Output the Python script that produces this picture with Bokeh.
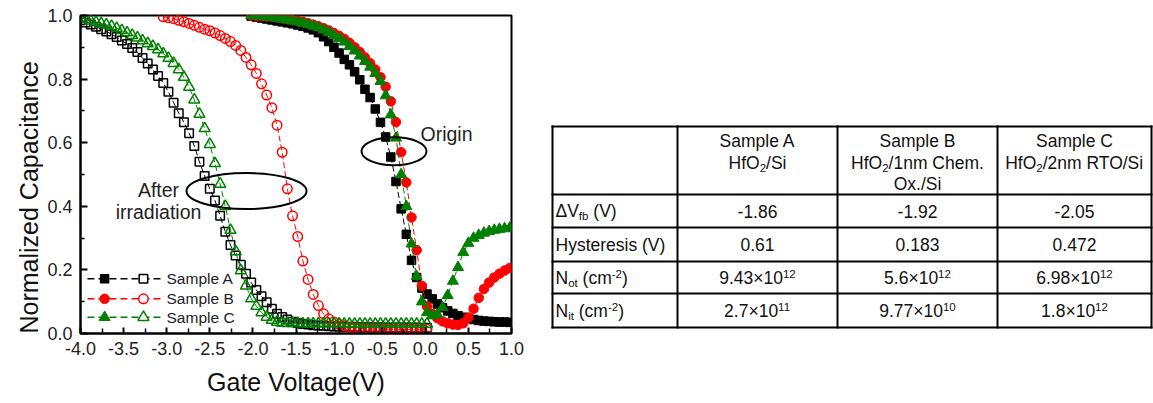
from bokeh.plotting import figure
from bokeh.layouts import row
from bokeh.models import Range1d, FixedTicker, Title
from bokeh.core.properties import value
from bokeh.embed import file_html
from bokeh.resources import INLINE

FONT = "Liberation Sans"

# ---------------- data ----------------
gate_v = [-4.00, -3.94, -3.88, -3.82, -3.76, -3.70, -3.64, -3.58, -3.52, -3.46,
          -3.40, -3.34, -3.28, -3.22, -3.16, -3.10, -3.04, -2.98, -2.92, -2.86,
          -2.80, -2.74, -2.68, -2.62, -2.56, -2.50, -2.44, -2.38, -2.32, -2.26,
          -2.20, -2.14, -2.08, -2.02, -1.96, -1.90, -1.84, -1.78, -1.72, -1.66,
          -1.60, -1.54, -1.48, -1.42, -1.36, -1.30, -1.24, -1.18, -1.12, -1.06,
          -1.00, -0.94, -0.88, -0.82, -0.76, -0.70, -0.64, -0.58, -0.52, -0.46,
          -0.40, -0.34, -0.28, -0.22, -0.16, -0.10, -0.04, 0.02, 0.08, 0.14,
          0.20, 0.26, 0.32, 0.38, 0.44, 0.50, 0.56, 0.62, 0.68, 0.74,
          0.80, 0.86, 0.92, 0.98]

# after irradiation (open markers)
after_a = [0.985, 0.978, 0.972, 0.965, 0.957, 0.950, 0.941, 0.932, 0.921, 0.910,
           0.898, 0.885, 0.866, 0.849, 0.830, 0.810, 0.788, 0.760, 0.726, 0.693,
           0.664, 0.630, 0.590, 0.540, 0.495, 0.455, 0.418, 0.370, 0.320, 0.278,
           0.245, 0.216, 0.188, 0.160, 0.137, 0.117, 0.098, 0.078, 0.062, 0.052,
           0.044, 0.037, 0.033, 0.030, 0.028, 0.026, 0.025, 0.024, 0.023, 0.022,
           0.022, 0.021, 0.021, 0.021, 0.020, 0.020, 0.020, 0.020, 0.020, 0.019,
           0.019, 0.019, 0.019, 0.019, 0.019, 0.019, 0.018, 0.018]
after_b = [0.996, 0.993, 0.990, 0.985, 0.980, 0.975, 0.969, 0.963, 0.957, 0.952,
           0.945, 0.937, 0.928, 0.918, 0.906, 0.890, 0.868, 0.845, 0.818, 0.785,
           0.750, 0.710, 0.655, 0.570, 0.455, 0.370, 0.305, 0.228, 0.170, 0.123,
           0.088, 0.062, 0.046, 0.036, 0.029, 0.024, 0.020, 0.018, 0.016, 0.015,
           0.015, 0.014, 0.014, 0.014, 0.013, 0.013, 0.013, 0.013, 0.013, 0.013,
           0.013, 0.013]
after_c = [0.993, 0.988, 0.983, 0.979, 0.975, 0.971, 0.966, 0.960, 0.953, 0.946,
           0.938, 0.930, 0.921, 0.912, 0.903, 0.893, 0.880, 0.866, 0.850, 0.830,
           0.806, 0.775, 0.735, 0.690, 0.645, 0.595, 0.535, 0.470, 0.400, 0.325,
           0.258, 0.198, 0.150, 0.110, 0.086, 0.066, 0.052, 0.042, 0.036, 0.033,
           0.032, 0.032, 0.032, 0.031, 0.031, 0.031, 0.031, 0.031, 0.031, 0.031,
           0.031, 0.030, 0.030, 0.030, 0.030, 0.030, 0.030, 0.030, 0.030, 0.030,
           0.030, 0.030, 0.030, 0.030, 0.030, 0.030, 0.030, 0.030]
after_a_v = gate_v[0:68]
after_b_v = gate_v[16:68]
after_c_v = gate_v[0:68]

# origin (filled markers)
origin_a = [0.998, 0.995, 0.992, 0.989, 0.986, 0.983, 0.980, 0.977, 0.974, 0.970,
            0.966, 0.961, 0.955, 0.946, 0.933, 0.918, 0.900, 0.882, 0.862, 0.845,
            0.823, 0.798, 0.768, 0.742, 0.706, 0.664, 0.618, 0.555, 0.478, 0.392,
            0.312, 0.230, 0.176, 0.143, 0.124, 0.109, 0.093, 0.081, 0.071, 0.063,
            0.056, 0.051, 0.047, 0.044, 0.041, 0.039, 0.038, 0.037, 0.036, 0.036,
            0.035]
origin_b = [1.000, 0.999, 0.998, 0.997, 0.996, 0.994, 0.992, 0.990, 0.987, 0.984,
            0.980, 0.976, 0.971, 0.966, 0.960, 0.953, 0.945, 0.936, 0.926, 0.914,
            0.900, 0.885, 0.868, 0.850, 0.830, 0.806, 0.776, 0.730, 0.665, 0.570,
            0.475, 0.365, 0.262, 0.150, 0.085, 0.062, 0.048, 0.038, 0.032, 0.028,
            0.027, 0.032, 0.050, 0.078, 0.112, 0.140, 0.160, 0.176, 0.188, 0.198,
            0.206]
origin_c = [1.000, 0.999, 0.998, 0.996, 0.994, 0.992, 0.989, 0.986, 0.983, 0.980,
            0.976, 0.972, 0.967, 0.962, 0.955, 0.947, 0.938, 0.928, 0.917, 0.903,
            0.889, 0.873, 0.856, 0.838, 0.818, 0.793, 0.748, 0.688, 0.615, 0.500,
            0.400, 0.282, 0.180, 0.100, 0.066, 0.056, 0.060, 0.082, 0.120, 0.165,
            0.208, 0.255, 0.284, 0.300, 0.309, 0.316, 0.321, 0.325, 0.328, 0.330,
            0.332]
origin_v = gate_v[33:84]

series_names = ["Sample A", "Sample B", "Sample C"]
series_colors = ["#000000", "#ff0000", "#008000"]
series_markers = ["square", "circle", "triangle"]

x_ticks = [-4.0, -3.5, -3.0, -2.5, -2.0, -1.5, -1.0, -0.5, 0.0, 0.5, 1.0]
x_tick_labels = ["-4.0", "-3.5", "-3.0", "-2.5", "-2.0", "-1.5", "-1.0", "-0.5", "0.0", "0.5", "1.0"]
x_minor = [-3.75, -3.25, -2.75, -2.25, -1.75, -1.25, -0.75, -0.25, 0.25, 0.75]
y_ticks = [0.0, 0.2, 0.4, 0.6, 0.8, 1.0]
y_tick_labels = ["0.0", "0.2", "0.4", "0.6", "0.8", "1.0"]
y_minor = [0.1, 0.3, 0.5, 0.7, 0.9]

x_title = "Gate Voltage(V)"
y_title = "Normalized Capacitance"
note_after = ["After", "irradiation"]
note_origin = "Origin"

# table contents: pieces of (text, kind) with kind n / sub / sup
table_headers = [
    [[("Sample A", "n")], [("HfO", "n"), ("2", "sub"), ("/Si", "n")]],
    [[("Sample B", "n")], [("HfO", "n"), ("2", "sub"), ("/1nm Chem.", "n")], [("Ox./Si", "n")]],
    [[("Sample C", "n")], [("HfO", "n"), ("2", "sub"), ("/2nm RTO/Si", "n")]],
]
table_row_labels = [
    [("\u0394V", "n"), ("fb", "sub"), (" (V)", "n")],
    [("Hysteresis (V)", "n")],
    [("N", "n"), ("ot", "sub"), (" (cm", "n"), ("-2", "sup"), (")", "n")],
    [("N", "n"), ("it", "sub"), (" (cm", "n"), ("-2", "sup"), (")", "n")],
]
table_values = [
    [[("-1.86", "n")], [("-1.92", "n")], [("-2.05", "n")]],
    [[("0.61", "n")], [("0.183", "n")], [("0.472", "n")]],
    [[("9.43\u00d710", "n"), ("12", "sup")], [("5.6\u00d710", "n"), ("12", "sup")], [("6.98\u00d710", "n"), ("12", "sup")]],
    [[("2.7\u00d710", "n"), ("11", "sup")], [("9.77\u00d710", "n"), ("10", "sup")], [("1.8\u00d710", "n"), ("12", "sup")]],
]

# ---------------- chart ----------------
BORDER_TOP = 15
BORDER_BOTTOM = 70
p = figure(width=545, height=403, x_range=Range1d(-4.0, 1.0), y_range=Range1d(0.0, 1.0),
           output_backend="svg", toolbar_location=None,
           min_border_left=80, min_border_right=34, min_border_top=BORDER_TOP,
           min_border_bottom=BORDER_BOTTOM)
p.grid.visible = False
p.outline_line_color = "#000000"
p.outline_line_width = 2
p.background_fill_color = "white"
p.border_fill_color = "white"

p.xaxis.ticker = FixedTicker(ticks=x_ticks, minor_ticks=x_minor)
p.yaxis.ticker = FixedTicker(ticks=y_ticks, minor_ticks=y_minor)
p.xaxis.major_label_overrides = dict(zip(x_ticks, x_tick_labels))
p.yaxis.major_label_overrides = dict(zip(y_ticks, y_tick_labels))
for ax in (p.xaxis[0], p.yaxis[0]):
    ax.axis_line_width = 2
    ax.axis_line_color = "#000000"
    ax.major_tick_line_width = 2
    ax.minor_tick_line_width = 1.5
    ax.major_tick_line_color = "#000000"
    ax.minor_tick_line_color = "#000000"
    ax.major_tick_out = 0
    ax.minor_tick_out = 0
    ax.major_label_text_font = FONT
    ax.major_label_text_font_size = "18px"
    ax.major_label_text_color = "#222222"
    ax.major_label_standoff = 8
p.xaxis.major_tick_in = 6
p.xaxis.minor_tick_in = 5
p.yaxis.major_tick_in = 7
p.yaxis.minor_tick_in = 4
p.xaxis.axis_label = x_title
p.xaxis.axis_label_text_font = FONT
p.xaxis.axis_label_text_font_size = "25px"
p.xaxis.axis_label_text_font_style = "normal"
p.xaxis.axis_label_text_color = "#111111"
p.xaxis.axis_label_standoff = 10

p.add_layout(Title(text=y_title, align="left", offset=0, standoff=4,
                   text_font=FONT, text_font_size="25px", text_font_style="normal",
                   text_color="#111111"), "left")

after_sets = [(after_a_v, after_a), (after_b_v, after_b), (after_c_v, after_c)]
origin_sets = [(origin_v, origin_a), (origin_v, origin_b), (origin_v, origin_c)]
marker_sizes = {"square": 8.5, "circle": 9.5, "triangle": 11}
open_sizes = {"square": 8.5, "circle": 9.5, "triangle": 11}

for i in range(3):
    col = series_colors[i]
    mk = series_markers[i]
    av, ac = after_sets[i]
    ov, oc = origin_sets[i]
    p.line(av, ac, line_color=col, line_width=1, line_dash="6 3")
    p.scatter(av, ac, marker=mk, size=open_sizes[mk], fill_color=None, line_color=col, line_width=1.5)
    p.line(ov, oc, line_color=col, line_width=1, line_dash="6 3")
    p.scatter(ov, oc, marker=mk, size=marker_sizes[mk], fill_color=col, line_color=col, line_width=1)

# ellipses
p.ellipse(x=[-2.074, -0.363], y=[0.448, 0.573], width=[1.392, 0.754], height=[0.113, 0.088],
          fill_color=None, line_color="#000000", line_width=2)
p.text(x=[-3.095, -3.095], y=[0.450, 0.381], text=note_after, text_align="center",
       text_baseline="middle", text_font=value(FONT), text_font_size="19.5px", text_color="#222222")
p.text(x=[-0.056], y=[0.628], text=[note_origin], text_align="left",
       text_baseline="middle", text_font=value(FONT), text_font_size="19.5px", text_color="#222222")

# legend (manual)
leg_y = [0.172, 0.109, 0.051]
for i in range(3):
    col = series_colors[i]
    mk = series_markers[i]
    p.segment(x0=[-3.919], y0=[leg_y[i]], x1=[-3.072], y1=[leg_y[i]], line_color=col,
              line_width=1.5, line_dash="7 4")
    p.scatter([-3.72], [leg_y[i]], marker=mk, size=marker_sizes[mk], fill_color=col, line_color=col)
    p.scatter([-3.27], [leg_y[i]], marker=mk, size=open_sizes[mk], fill_color="white",
              line_color=col, line_width=1.5)
p.text(x=[-3.002] * 3, y=leg_y, text=series_names, text_align="left", text_baseline="middle",
       text_font=value(FONT), text_font_size="15.5px", text_color="#222222")

# ---------------- table ----------------
# data units of this figure are page pixels (frame aligned with the chart frame)
t = figure(width=608, height=403, x_range=Range1d(545, 1153),
           y_range=Range1d(403 - BORDER_BOTTOM, BORDER_TOP),
           output_backend="svg", toolbar_location=None, x_axis_type=None, y_axis_type=None,
           min_border_left=0, min_border_right=0, min_border_top=BORDER_TOP,
           min_border_bottom=BORDER_BOTTOM)
t.grid.visible = False
t.outline_line_color = None
t.background_fill_color = "white"
t.border_fill_color = "white"

h_lines = [126, 194, 227, 261, 293, 327]
v_lines = [552, 677, 837, 997, 1151]
t.segment(x0=[v_lines[0]] * len(h_lines), y0=h_lines, x1=[v_lines[-1]] * len(h_lines), y1=h_lines,
          line_color="#000000", line_width=2, line_cap="square")
t.segment(x0=v_lines, y0=[h_lines[0]] * len(v_lines), x1=v_lines, y1=[h_lines[-1]] * len(v_lines),
          line_color="#000000", line_width=2, line_cap="square")

CHAR_W = {' ': 278, '(': 333, ')': 333, '-': 333, '.': 278, '/': 278, '\u00d7': 584, '\u0394': 668,
          'A': 667, 'B': 667, 'C': 722, 'H': 722, 'N': 722, 'O': 778, 'R': 722, 'S': 667, 'T': 611,
          'V': 667, 'a': 556, 'b': 556, 'c': 500, 'd': 556, 'e': 556, 'f': 278, 'h': 556, 'i': 222,
          'l': 222, 'm': 833, 'n': 556, 'o': 556, 'p': 556, 'r': 333, 's': 500, 't': 278, 'x': 500,
          'y': 500}
MAIN_PX = 17.5
SMALL_PX = 11.5


def text_w(s, px):
    return sum(CHAR_W.get(ch, 556) for ch in s) * px / 1000.0


main_src = dict(x=[], y=[], text=[])
small_src = dict(x=[], y=[], text=[])


def place(pieces, x, y, align):
    widths = [text_w(tx, MAIN_PX if k == "n" else SMALL_PX) for tx, k in pieces]
    cur = x - sum(widths) / 2.0 if align == "center" else x
    for (tx, k), w in zip(pieces, widths):
        px = MAIN_PX if k == "n" else SMALL_PX
        dst = main_src if k == "n" else small_src
        dy = {"n": 0.0, "sub": 5.0, "sup": -4.0}[k]
        lead = len(tx) - len(tx.lstrip(" "))
        dst["x"].append(cur + text_w(" " * lead, px))
        dst["y"].append(y + dy)
        dst["text"].append(tx.strip(" "))
        cur += w


col_centers = [757, 917, 1074]
header_lines_y = [140, 162, 183.5]
row_mids = [210.5, 244, 277, 310]
label_left = 555

for c, lines in enumerate(table_headers):
    for j, pieces in enumerate(lines):
        place(pieces, col_centers[c], header_lines_y[j], "center")
for r, pieces in enumerate(table_row_labels):
    place(pieces, label_left, row_mids[r], "left")
for r, cells in enumerate(table_values):
    for c, pieces in enumerate(cells):
        place(pieces, col_centers[c], row_mids[r], "center")

t.text(x="x", y="y", text="text", source=main_src, text_align="left", text_baseline="middle",
       text_font=value(FONT), text_font_size=f"{MAIN_PX}px", text_color="#111111")
t.text(x="x", y="y", text="text", source=small_src, text_align="left", text_baseline="middle",
       text_font=value(FONT), text_font_size=f"{SMALL_PX}px", text_color="#111111")

layout = row(p, t)
open("out.html", "w").write(file_html(layout, INLINE))
